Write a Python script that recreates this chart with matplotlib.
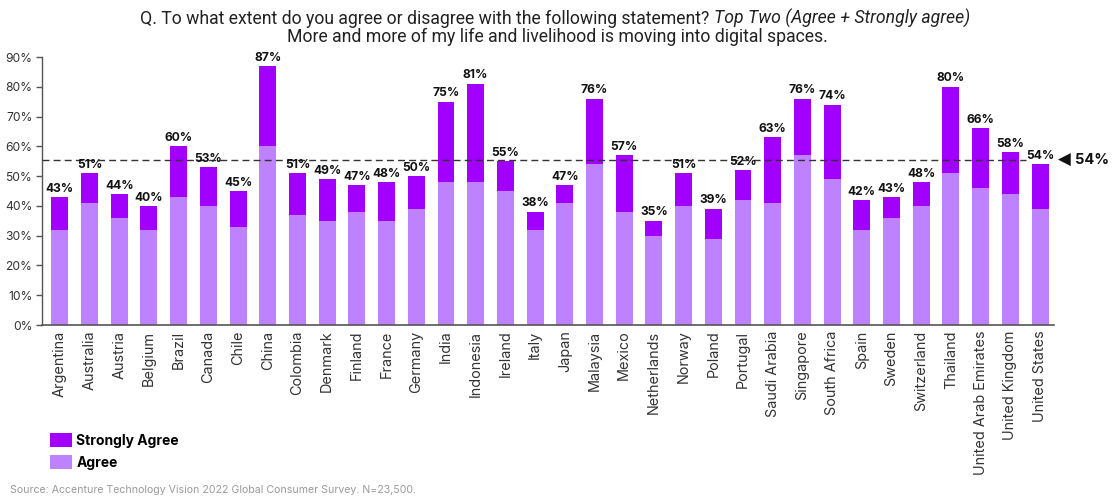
import matplotlib
matplotlib.use("Agg")
import matplotlib.pyplot as plt
from matplotlib.patches import Patch
from matplotlib.transforms import blended_transform_factory

countries = ["Argentina", "Australia", "Austria", "Belgium", "Brazil", "Canada", "Chile",
             "China", "Colombia", "Denmark", "Finland", "France", "Germany", "India",
             "Indonesia", "Ireland", "Italy", "Japan", "Malaysia", "Mexico", "Netherlands",
             "Norway", "Poland", "Portugal", "Saudi Arabia", "Singapore", "South Africa",
             "Spain", "Sweden", "Switzerland", "Thailand", "United Arab Emirates",
             "United Kingdom", "United States"]
top_two = [43, 51, 44, 40, 60, 53, 45, 87, 51, 49, 47, 48, 50, 75, 81, 55, 38, 47, 76, 57,
           35, 51, 39, 52, 63, 76, 74, 42, 43, 48, 80, 66, 58, 54]
agree = [32, 41, 36, 32, 43, 40, 33, 60, 37, 35, 38, 35, 39, 48, 48, 45, 32, 41, 54, 38,
         30, 40, 29, 42, 41, 57, 49, 32, 36, 40, 51, 46, 44, 39]
strongly = [t - a for t, a in zip(top_two, agree)]
avg_line = 55.3
avg_label = "54%"
yticks = [0, 10, 20, 30, 40, 50, 60, 70, 80, 90]

C_STRONG = "#A100FF"
C_AGREE = "#BE82FF"
FONT = ["Inter", "DejaVu Sans"]
TFONT = ["Roboto", "DejaVu Sans"]
plt.rcParams['font.family'] = FONT

W, H = 1114, 498
fig = plt.figure(figsize=(W / 100, H / 100), dpi=100)
ax = fig.add_axes([42 / W, 1 - 325 / H, (1054 - 42) / W, (325 - 57) / H])

x = list(range(len(countries)))
ax.bar(x, agree, width=0.57, color=C_AGREE, label="Agree", zorder=2)
ax.bar(x, strongly, bottom=agree, width=0.57, color=C_STRONG, label="Strongly Agree", zorder=2)

for xi, t in zip(x, top_two):
    ax.text(xi, t + 0.8, f"{t}%", ha="center", va="bottom", fontsize=8.7,
            fontweight="bold", color="#111111", zorder=4)

ax.axhline(avg_line, xmin=0, xmax=0.972, color="#333333", lw=1.0,
           ls=(0, (5, 3)), zorder=3)
tr = blended_transform_factory(ax.transAxes, ax.transData)
ax.text(1.004, avg_line, "\u25C0", transform=tr, ha="left", va="center",
        fontsize=12, color="#111111", family="DejaVu Sans")
ax.text(1.021, avg_line, avg_label, transform=tr, ha="left", va="center",
        fontsize=10.5, fontweight="bold", color="#111111")

ax.set_xlim(-0.6, len(countries) - 1 + 0.47)
ax.set_ylim(0, 90)
ax.set_yticks(yticks)
ax.set_yticklabels([f"{v}%" for v in yticks], fontsize=8.7, color="#333333")
ax.set_xticks(x)
ax.set_xticklabels(countries, rotation=90, fontsize=10.4, color="#333333")
ax.tick_params(axis="x", length=0, pad=4)
ax.tick_params(axis="y", length=4, width=1, color="#555555", pad=3)
for s in ["top", "right"]:
    ax.spines[s].set_visible(False)
ax.spines["left"].set_color("#555555")
ax.spines["bottom"].set_color("#555555")
ax.spines["left"].set_linewidth(1)
ax.spines["bottom"].set_linewidth(1.2)

# Title
fig.canvas.draw()
r = fig.canvas.get_renderer()
t1 = fig.text(0, 1 - 18.5 / H, "Q. To what extent do you agree or disagree with the following statement? ",
              fontsize=12.7, color="#222222", va="center", ha="left", family=TFONT)
t2 = fig.text(0, 1 - 18.5 / H, "Top Two (Agree + Strongly agree)", fontsize=12.7,
              style="italic", color="#222222", va="center", ha="left", family=TFONT)
w1 = t1.get_window_extent(r).width
w2 = t2.get_window_extent(r).width
start = 555 - (w1 + w2) / 2
t1.set_x(start / W)
t2.set_x((start + w1) / W)
fig.text(557 / W, 1 - 36.5 / H, "More and more of my life and livelihood is moving into digital spaces.",
         fontsize=12.7, color="#222222", va="center", ha="center", family=TFONT)

handles = [Patch(facecolor=C_STRONG, label="Strongly Agree"),
           Patch(facecolor=C_AGREE, label="Agree")]
fig.legend(handles=handles, loc="upper left", bbox_to_anchor=(50 / W, 1 - 433 / H),
           frameon=False, prop={"weight": "bold", "size": 10}, handlelength=1.55,
           handleheight=1.15, handletextpad=0.35, labelspacing=0.55, borderaxespad=0,
           borderpad=0)

fig.text(10 / W, 1 - 490 / H,
         "Source: Accenture Technology Vision 2022 Global Consumer Survey. N=23,500.",
         fontsize=7.6, color="#9a9a9a", va="center", ha="left")

fig.savefig("out.png", dpi=100)
